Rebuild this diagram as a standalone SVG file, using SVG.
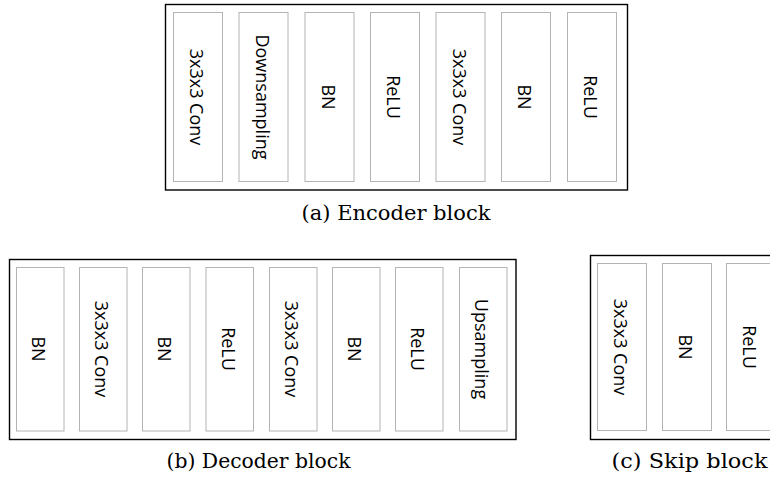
<svg xmlns="http://www.w3.org/2000/svg" width="770" height="481" viewBox="0 0 770 481">
<style>
.outer{fill:#fff;stroke:#000;stroke-width:1.4}
.box{fill:#fff;stroke:#b4b4b4;stroke-width:1}
.lbl{font-family:"Open Sans","Noto Sans",sans-serif;font-size:18px;fill:#000;text-anchor:middle}
.cap{font-family:"DejaVu Serif","Liberation Serif",serif;font-size:20px;fill:#000}
</style>
<rect width="770" height="481" fill="#fff"/>
<g id="encoder">
<rect class="outer" x="165.5" y="4.5" width="462" height="185.5"/>
<g id="enc1"><rect class="box" x="173.5" y="12.5" width="49" height="169"/><text class="lbl" transform="translate(198,97) rotate(90)" y="8">3x3x3 Conv</text></g>
<g id="enc2"><rect class="box" x="239" y="12.5" width="49" height="169"/><text class="lbl" transform="translate(263.5,97) rotate(90)" y="8">Downsampling</text></g>
<g id="enc3"><rect class="box" x="305" y="12.5" width="49" height="169"/><text class="lbl" transform="translate(329.5,97) rotate(90)" y="8">BN</text></g>
<g id="enc4"><rect class="box" x="370.5" y="12.5" width="49" height="169"/><text class="lbl" transform="translate(395,97) rotate(90)" y="8">ReLU</text></g>
<g id="enc5"><rect class="box" x="436" y="12.5" width="49" height="169"/><text class="lbl" transform="translate(460.5,97) rotate(90)" y="8">3x3x3 Conv</text></g>
<g id="enc6"><rect class="box" x="501.5" y="12.5" width="49" height="169"/><text class="lbl" transform="translate(526,97) rotate(90)" y="8">BN</text></g>
<g id="enc7"><rect class="box" x="567.5" y="12.5" width="49" height="169"/><text class="lbl" transform="translate(592,97) rotate(90)" y="8">ReLU</text></g>
<text class="cap" x="301.5" y="220" textLength="189" lengthAdjust="spacingAndGlyphs">(a) Encoder block</text>
</g>
<g id="decoder">
<rect class="outer" x="9.5" y="259.5" width="506.5" height="180"/>
<g id="dec1"><rect class="box" x="16.5" y="267.5" width="47.5" height="163.5"/><text class="lbl" transform="translate(40.25,349) rotate(90)" y="8">BN</text></g>
<g id="dec2"><rect class="box" x="79.5" y="267.5" width="47.5" height="163.5"/><text class="lbl" transform="translate(103.25,349) rotate(90)" y="8">3x3x3 Conv</text></g>
<g id="dec3"><rect class="box" x="142.5" y="267.5" width="47.5" height="163.5"/><text class="lbl" transform="translate(166.25,349) rotate(90)" y="8">BN</text></g>
<g id="dec4"><rect class="box" x="206" y="267.5" width="47.5" height="163.5"/><text class="lbl" transform="translate(229.75,349) rotate(90)" y="8">ReLU</text></g>
<g id="dec5"><rect class="box" x="269.5" y="267.5" width="47.5" height="163.5"/><text class="lbl" transform="translate(293.25,349) rotate(90)" y="8">3x3x3 Conv</text></g>
<g id="dec6"><rect class="box" x="332.5" y="267.5" width="47.5" height="163.5"/><text class="lbl" transform="translate(356.25,349) rotate(90)" y="8">BN</text></g>
<g id="dec7"><rect class="box" x="395.5" y="267.5" width="47.5" height="163.5"/><text class="lbl" transform="translate(419.25,349) rotate(90)" y="8">ReLU</text></g>
<g id="dec8"><rect class="box" x="459.5" y="267.5" width="47.5" height="163.5"/><text class="lbl" transform="translate(483.25,349) rotate(90)" y="8">Upsampling</text></g>
<text class="cap" x="166.5" y="468" textLength="184" lengthAdjust="spacingAndGlyphs">(b) Decoder block</text>
</g>
<g id="skip">
<rect class="outer" x="590.5" y="255.5" width="200" height="184"/>
<g id="skip1"><rect class="box" x="597.5" y="263.5" width="49" height="167"/><text class="lbl" transform="translate(622,347) rotate(90)" y="8">3x3x3 Conv</text></g>
<g id="skip2"><rect class="box" x="662.5" y="263.5" width="49" height="167"/><text class="lbl" transform="translate(687,347) rotate(90)" y="8">BN</text></g>
<g id="skip3"><rect class="box" x="726.5" y="263.5" width="49" height="167"/><text class="lbl" transform="translate(751,347) rotate(90)" y="8">ReLU</text></g>
<text class="cap" x="611.5" y="468" textLength="156" lengthAdjust="spacingAndGlyphs">(c) Skip block</text>
</g>
<g id="connectors"></g>
</svg>
